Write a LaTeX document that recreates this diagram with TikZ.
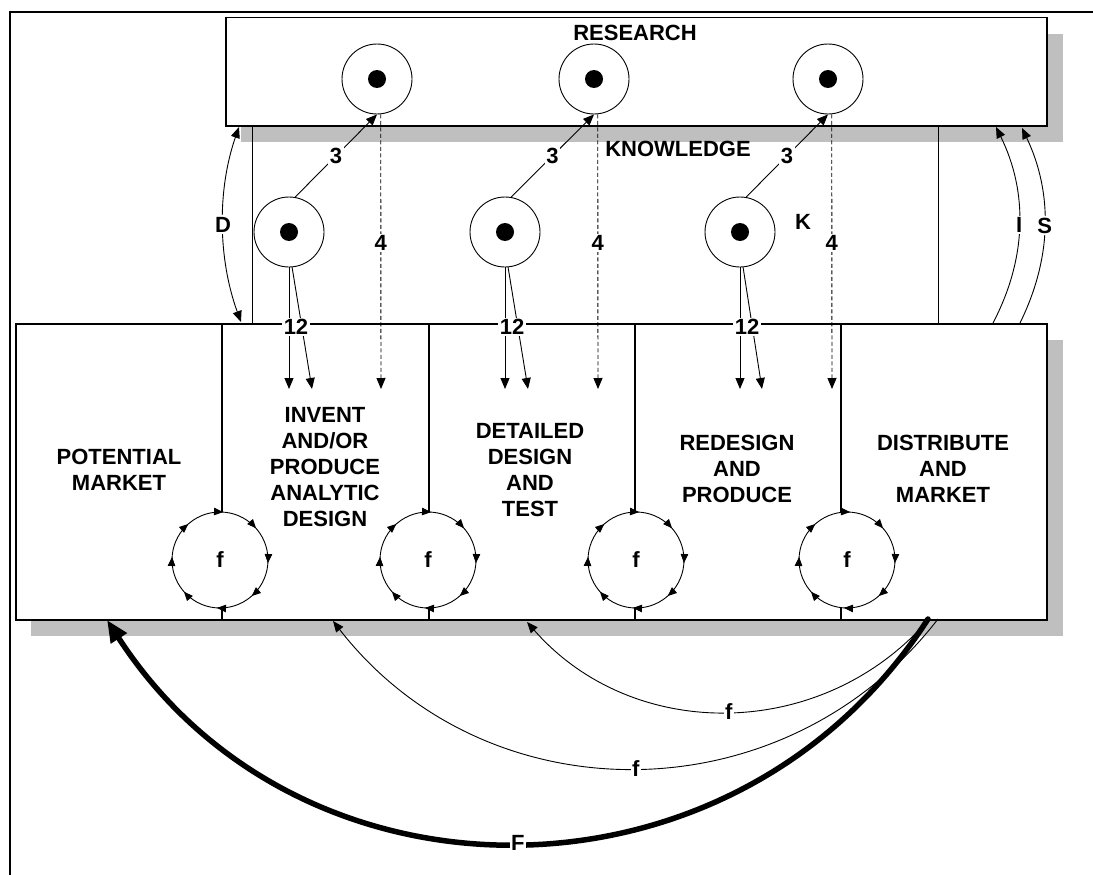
\documentclass[tikz,border=0pt]{standalone}
\usepackage{fontspec}
\setmainfont{Liberation Sans}
\usetikzlibrary{arrows.meta,decorations.markings}
\begin{document}
\begin{tikzpicture}[x=1pt,y=-1pt,
 every node/.style={font=\fontsize{22}{26}\selectfont\bfseries, inner sep=0pt},
 lbl/.style={fill=white,inner sep=1.5pt},
 shade/.style={fill=black!25,draw=none},
 sect/.style={draw,line width=1.5pt,fill=white,minimum height=296pt,anchor=north west},
 ring/.style={circle,draw,line width=0.9pt,minimum size=70pt,fill=white},
 dot/.style={circle,fill=black,minimum size=18pt},
 thin/.style={line width=0.9pt},
 tip/.style={-{Triangle[length=11pt,width=9pt]}},
 dtip/.style={{Triangle[length=11pt,width=9pt]}-{Triangle[length=11pt,width=9pt]}},
 dash4/.style={thin,dash pattern=on 4pt off 2.5pt,tip},
 fring/.style={circle,fill=white,minimum size=96pt},
 floop/.style={line width=0.9pt,postaction={decorate},
   decoration={markings,mark=between positions 0.01 and 0.9 step 0.125 with {\arrow{Triangle[length=9pt,width=7.5pt]}}}},
 bigF/.style={line width=5.5pt,line cap=round,-{Triangle[length=22pt,width=18pt]}},
 txt/.style={align=center}
]
\useasboundingbox (0,0) rectangle (1093,875);
% frame
\draw[line width=2.5pt] (10,875) -- (10,12) -- (1093,12);
% shadows
\fill[shade] (241,34) rectangle (1063,142);
\fill[shade] (31,340) rectangle (1063,636);
% research box
\node[draw,line width=1.5pt,fill=white,minimum width=821pt,minimum height=108pt,anchor=north west] (research) at (225,17) {};
\node (tres) at (635,33) {RESEARCH};
% bottom sections
\node[sect,minimum width=206pt] (s1) at (15,323) {};
\node[sect,minimum width=207pt] (s2) at (221,323) {};
\node[sect,minimum width=206pt] (s3) at (428,323) {};
\node[sect,minimum width=206pt] (s4) at (634,323) {};
\node[sect,minimum width=206pt] (s5) at (840,323) {};
% knowledge lines
\coordinate (kl1a) at (252,125); \coordinate (kl1b) at (252,323);
\coordinate (kl2a) at (938,125); \coordinate (kl2b) at (938,323);
\draw[thin] (kl1a) -- (kl1b);
\draw[thin] (kl2a) -- (kl2b);
\node (tknow) at (678,149) {KNOWLEDGE};
\node (tK) at (803,222) {K};
% section texts
\node[txt] (t1) at (119,470) {POTENTIAL\\MARKET};
\node[txt] (t2) at (325,467) {INVENT\\AND/OR\\PRODUCE\\ANALYTIC\\DESIGN};
\node[txt] (t3) at (530,470) {DETAILED\\DESIGN\\AND\\TEST};
\node[txt] (t4) at (737,469) {REDESIGN\\AND\\PRODUCE};
\node[txt] (t5) at (943,469) {DISTRIBUTE\\AND\\MARKET};
% f loops
\foreach \i/\x in {1/220,2/428,3/636,4/847}{
  \node[fring] (f\i) at (\x,560) {f};
  \draw[floop] ([yshift=48pt]f\i.center) arc[start angle=-90,end angle=270,radius=48];
}
% research circles
\node[ring] (r1) at (377,79) {}; \node[dot] (rd1) at (r1) {};
\node[ring] (r2) at (594,79) {}; \node[dot] (rd2) at (r2) {};
\node[ring] (r3) at (828,79) {}; \node[dot] (rd3) at (r3) {};
% knowledge circles
\node[ring] (k1) at (289,232) {}; \node[dot] (kd1) at (k1) {};
\node[ring] (k2) at (505,232) {}; \node[dot] (kd2) at (k2) {};
\node[ring] (k3) at (740,232) {}; \node[dot] (kd3) at (k3) {};
% arrows 3
\draw[thin,tip] (k1.80) -- (r1.south) node[pos=0.5,lbl] (l3a) {3};
\draw[thin,tip] (k2.80) -- (r2.south) node[pos=0.5,lbl] (l3b) {3};
\draw[thin,tip] (k3.80) -- (r3.south) node[pos=0.5,lbl] (l3c) {3};
% dashed 4
\coordinate (e4a) at (381,389); \coordinate (e4b) at (598,389); \coordinate (e4c) at (832,389);
\draw[dash4] (r1.-84) -- (e4a) node[pos=0.47,lbl] (l4a) {4};
\draw[dash4] (r2.-84) -- (e4b) node[pos=0.47,lbl] (l4b) {4};
\draw[dash4] (r3.-84) -- (e4c) node[pos=0.47,lbl] (l4c) {4};
% 12 arrows
\coordinate (v1) at (289,389); \coordinate (w1) at (312,389);
\coordinate (v2) at (505,389); \coordinate (w2) at (528,389);
\coordinate (v3) at (740,389); \coordinate (w3) at (762,389);
\draw[thin,tip] (k1.south) -- (v1); \draw[thin,tip] (k1.-85) -- (w1);
\draw[thin,tip] (k2.south) -- (v2); \draw[thin,tip] (k2.-85) -- (w2);
\draw[thin,tip] (k3.south) -- (v3); \draw[thin,tip] (k3.-85) -- (w3);
\node[lbl] (l12a) at (296,327) {12};
\node[lbl] (l12b) at (512,327) {12};
\node[lbl] (l12c) at (747,327) {12};
% D, I, S
\coordinate (d0) at (239,127); \coordinate (d1) at (241,322);
\draw[thin,dtip] (d0) .. controls (217,190) and (218,259) .. (d1) node[pos=0.5,lbl] (lD) {D};
\coordinate (i0) at (993,323); \coordinate (i1) at (996,127);
\draw[thin,tip] (i0) .. controls (1027,258) and (1028,192) .. (i1) node[pos=0.5,lbl] (lI) {I};
\coordinate (q0) at (1020,323); \coordinate (q1) at (1022,128);
\draw[thin,tip] (q0) .. controls (1052,258) and (1053,193) .. (q1) node[pos=0.5,lbl] (lS) {S};
% feedback curves
\coordinate (g0) at (929,619); \coordinate (g1) at (527,622);
\draw[thin,tip] (g0) .. controls (824,741) and (634,744) .. (g1) node[pos=0.5,lbl] (lf1) {f};
\coordinate (h0) at (938,619); \coordinate (h1) at (333,621);
\draw[thin,tip] (h0) .. controls (785,817) and (487,819) .. (h1) node[pos=0.5,lbl] (lf2) {f};
\coordinate (F0) at (928,619); \coordinate (F1) at (107,620);
\draw[bigF] (F0) .. controls (736,917) and (300,918) .. (F1) node[pos=0.5,lbl] (lF) {F};
\end{tikzpicture}
\end{document}
